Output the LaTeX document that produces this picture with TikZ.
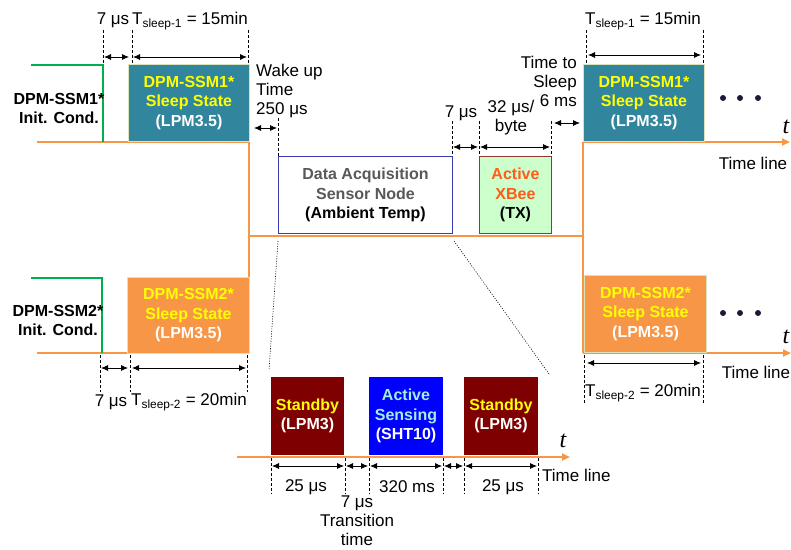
\documentclass[tikz,border=0pt]{standalone}
\usepackage{fontspec}
\setmainfont{Liberation Sans}
\newfontfamily\tfont{Liberation Serif}
\usetikzlibrary{arrows.meta}
\definecolor{teal1}{HTML}{31859C}
\definecolor{orbox}{HTML}{F79646}
\definecolor{orline}{HTML}{F79646}
\definecolor{ingreen}{HTML}{00B050}
\definecolor{paleg}{HTML}{D7E4BD}
\definecolor{dablue}{HTML}{3B3BB0}
\definecolor{xfill}{HTML}{CCFFCC}
\definecolor{xdraw}{HTML}{953735}
\definecolor{xtext}{HTML}{FF5B1A}
\definecolor{gtext}{HTML}{595959}
\definecolor{stby}{HTML}{7F0000}
\definecolor{actb}{HTML}{0000FF}
\definecolor{aqua}{HTML}{A0F0E0}
\definecolor{ylw}{HTML}{FFFF00}
\definecolor{dotc}{HTML}{1A1A3A}
\begin{document}
\begin{tikzpicture}[x=1pt,y=-1pt,
  lbl/.style={inner sep=0pt, font=\fontsize{17}{19}\selectfont, align=center},
  blbl/.style={inner sep=0pt, font=\bfseries\fontsize{16}{19}\selectfont, align=center},
  bx/.style={draw, line width=1pt, inner sep=0pt, anchor=north west, align=center,
             font=\bfseries\fontsize{16}{19.5}\selectfont},
  guide/.style={line width=0.8pt, dash pattern=on 3pt off 2pt},
  dim/.style={line width=0.8pt, {Latex[length=7pt,width=6pt]}-{Latex[length=7pt,width=6pt]}},
  sig/.style={draw=orline, line width=2pt},
  sigarrow/.style={sig, -{Triangle[length=8pt,width=7pt]}},
  init/.style={draw=ingreen, line width=2pt},
  proj/.style={line width=0.6pt, dash pattern=on 1pt off 1.5pt},
  tlab/.style={inner sep=0pt, font=\tfont\itshape\fontsize{24}{24}\selectfont},
]
\useasboundingbox (0,0) rectangle (791,549);

% ---------- signal lines ----------
\coordinate (s1a) at (37,142);
\coordinate (s1b) at (249,142);
\coordinate (s2a) at (37,353);
\coordinate (s2b) at (249,353);
\coordinate (m1) at (249,236);
\coordinate (m2) at (583,236);
\coordinate (r1a) at (583,142);
\coordinate (r1b) at (790,142);
\coordinate (r2a) at (583,353);
\coordinate (r2b) at (791,353);
\draw[sig] (s1a) -- (s1b) -- (s2b) -- (s2a);
\draw[sig] (m1) -- (m2);
\draw[sig] (r1a) -- (r2a);
\draw[sigarrow] (r1a) -- (r1b);
\draw[sigarrow] (r2a) -- (r2b);

\coordinate (g1a) at (31,65);
\coordinate (g1b) at (103,65);
\coordinate (g1c) at (103,142);
\coordinate (g2a) at (31,278);
\coordinate (g2b) at (102,278);
\coordinate (g2c) at (102,353);
\draw[init] (g1a) -- (g1b) -- (g1c);
\draw[init] (g2a) -- (g2b) -- (g2c);

\coordinate (bt1) at (237,457);
\coordinate (bt2) at (570,457);
\draw[sigarrow] (bt1) -- (bt2);

% ---------- boxes ----------
\node[bx, fill=teal1, draw=paleg, minimum width=121, minimum height=77] (ssm1) at (128,64)
  {\color{ylw}DPM-SSM1*\\\color{ylw}Sleep State\\\color{white}(LPM3.5)};
\node[bx, fill=teal1, draw=paleg, minimum width=121, minimum height=77] (ssm1r) at (583,64)
  {\color{ylw}DPM-SSM1*\\\color{ylw}Sleep State\\\color{white}(LPM3.5)};
\node[bx, fill=orbox, draw=paleg, minimum width=122, minimum height=76] (ssm2) at (127,277)
  {\color{ylw}DPM-SSM2*\\\color{ylw}Sleep State\\\color{white}(LPM3.5)};
\node[bx, fill=orbox, draw=paleg, minimum width=122, minimum height=77] (ssm2r) at (584,275)
  {\color{ylw}DPM-SSM2*\\\color{ylw}Sleep State\\\color{white}(LPM3.5)};
\node[bx, fill=white, draw=dablue, minimum width=174, minimum height=77] (da) at (278,156)
  {\color{gtext}Data Acquisition\\\color{gtext}Sensor Node\\\color{black}(Ambient Temp)};
\node[bx, fill=xfill, draw=xdraw, minimum width=72, minimum height=77] (xb) at (479,156)
  {\color{xtext}Active\\\color{xtext}XBee\\\color{black}(TX)};
\node[bx, fill=stby, draw=stby, minimum width=72, minimum height=77] (sb1) at (271,377)
  {\color{ylw}Standby\\\color{white}(LPM3)};
\node[bx, fill=actb, draw=actb, minimum width=73, minimum height=77] (act) at (369,377)
  {\color{aqua}Active\\\color{aqua}Sensing\\\color{white}(SHT10)};
\node[bx, fill=stby, draw=stby, minimum width=73, minimum height=77] (sb2) at (464,377)
  {\color{ylw}Standby\\\color{white}(LPM3)};

% ---------- projection lines ----------
\coordinate (p1a) at (278,241);
\coordinate (p1b) at (269,370);
\coordinate (p2a) at (454,241);
\coordinate (p2b) at (549,374);
\draw[proj] (p1a) -- (p1b);
\draw[proj] (p2a) -- (p2b);

% ---------- init condition labels ----------
\node[blbl] (ic1) at (59,108) {DPM-SSM1*\\Init. Cond.};
\node[blbl] (ic2) at (58,320) {DPM-SSM2*\\Init. Cond.};

% ---------- top-left dimensions ----------
\coordinate (ta1) at (103,30);  \coordinate (ta2) at (103,65);
\coordinate (tb1) at (132,30);  \coordinate (tb2) at (132,64);
\coordinate (tc1) at (248,30);  \coordinate (tc2) at (248,64);
\draw[guide] (ta1) -- (ta2);
\draw[guide] (tb1) -- (tb2);
\draw[guide] (tc1) -- (tc2);
\coordinate (td1) at (104,57); \coordinate (td2) at (129,57);
\coordinate (td3) at (133,57); \coordinate (td4) at (247,57);
\draw[dim] (td1) -- (td2);
\draw[dim] (td3) -- (td4);
\node[lbl] (l7a) at (113,20) {7 μs};
\node[lbl] (lts1) at (190,21) {T\textsubscript{sleep-1} = 15min};

% ---------- wake up ----------
\node[lbl, anchor=west, align=left] (wake) at (256,91) {Wake up\\Time\\250 μs};
\coordinate (wa1) at (254,128); \coordinate (wa2) at (277,128);
\draw[dim] (wa1) -- (wa2);
\coordinate (wg1) at (278,118); \coordinate (wg2) at (278,156);
\draw[guide] (wg1) -- (wg2);

% ---------- 7 us and 32 us/byte ----------
\coordinate (xa1) at (452,121); \coordinate (xa2) at (452,156);
\coordinate (xb1) at (479,121); \coordinate (xb2) at (479,156);
\coordinate (xc1) at (551,121); \coordinate (xc2) at (551,156);
\draw[guide] (xa1) -- (xa2);
\draw[guide] (xb1) -- (xb2);
\draw[guide] (xc1) -- (xc2);
\coordinate (xd1) at (453,147); \coordinate (xd2) at (478,147);
\coordinate (xd3) at (480,147); \coordinate (xd4) at (550,147);
\draw[dim] (xd1) -- (xd2);
\draw[dim] (xd3) -- (xd4);
\node[lbl] (l7b) at (461,113) {7 μs};
\node[lbl] (l32) at (511,118) {32 μs/\\byte};

% ---------- time to sleep ----------
\node[lbl, anchor=east, align=right] (tts) at (577,81) {Time to\\Sleep\\6 ms};
\coordinate (sa1) at (554,123); \coordinate (sa2) at (580,123);
\draw[dim] (sa1) -- (sa2);

% ---------- top-right dimensions ----------
\coordinate (ra1) at (586,30); \coordinate (ra2) at (586,64);
\coordinate (rb1) at (703,30); \coordinate (rb2) at (703,64);
\draw[guide] (ra1) -- (ra2);
\draw[guide] (rb1) -- (rb2);
\coordinate (rd1) at (588,55); \coordinate (rd2) at (701,55);
\draw[dim] (rd1) -- (rd2);
\node[lbl] (lts1r) at (643,21) {T\textsubscript{sleep-1} = 15min};
\fill[dotc] (723,98) circle[radius=3pt] (740,98) circle[radius=3pt] (758,98) circle[radius=3pt];
\node[tlab] (t1) at (786,127) {t};
\node[lbl] (tl1) at (753,163) {Time line};

% ---------- bottom-left dimensions ----------
\coordinate (la1) at (100,355); \coordinate (la2) at (100,392);
\coordinate (lb1) at (130,355); \coordinate (lb2) at (130,392);
\coordinate (lc1) at (247,355); \coordinate (lc2) at (247,392);
\draw[guide] (la1) -- (la2);
\draw[guide] (lb1) -- (lb2);
\draw[guide] (lc1) -- (lc2);
\coordinate (ld1) at (101,368); \coordinate (ld2) at (128,368);
\coordinate (ld3) at (132,368); \coordinate (ld4) at (246,368);
\draw[dim] (ld1) -- (ld2);
\draw[dim] (ld3) -- (ld4);
\node[lbl] (l7c) at (111,402) {7 μs};
\node[lbl] (lts2) at (189,402) {T\textsubscript{sleep-2} = 20min};

% ---------- bottom-right dimensions ----------
\coordinate (ma1) at (584,355); \coordinate (ma2) at (584,403);
\coordinate (mb1) at (703,355); \coordinate (mb2) at (703,403);
\draw[guide] (ma1) -- (ma2);
\draw[guide] (mb1) -- (mb2);
\coordinate (md1) at (587,363); \coordinate (md2) at (701,363);
\draw[dim] (md1) -- (md2);
\node[lbl] (lts2r) at (643,393) {T\textsubscript{sleep-2} = 20min};
\fill[dotc] (723,313) circle[radius=3pt] (740,313) circle[radius=3pt] (758,313) circle[radius=3pt];
\node[tlab] (t2) at (786,337) {t};
\node[lbl] (tl2) at (756,372) {Time line};

% ---------- lower timeline dimensions ----------
\foreach \xx [count=\i] in {271,345,369,443,464,538} {
  \coordinate (bg\i a) at (\xx,458);
  \coordinate (bg\i b) at (\xx,494);
  \draw[guide] (bg\i a) -- (bg\i b);
}
\coordinate (bd1) at (272,466); \coordinate (bd2) at (344,466);
\coordinate (bd3) at (346,466); \coordinate (bd4) at (368,466);
\coordinate (bd5) at (370,466); \coordinate (bd6) at (442,466);
\coordinate (bd7) at (444,466); \coordinate (bd8) at (463,466);
\coordinate (bd9) at (465,466); \coordinate (bd10) at (537,466);
\draw[dim] (bd1) -- (bd2);
\draw[dim] (bd3) -- (bd4);
\draw[dim] (bd5) -- (bd6);
\draw[dim] (bd7) -- (bd8);
\draw[dim] (bd9) -- (bd10);
\node[lbl] (l25a) at (306,487) {25 μs};
\node[lbl] (l320) at (407,487) {320 ms};
\node[lbl] (l25b) at (503,487) {25 μs};
\node[lbl] (ltr) at (357,521) {7 μs\\Transition\\time};
\node[tlab] (t3) at (563,441) {t};
\node[lbl, anchor=west] (tl3) at (542,475) {Time line};
\end{tikzpicture}
\end{document}
